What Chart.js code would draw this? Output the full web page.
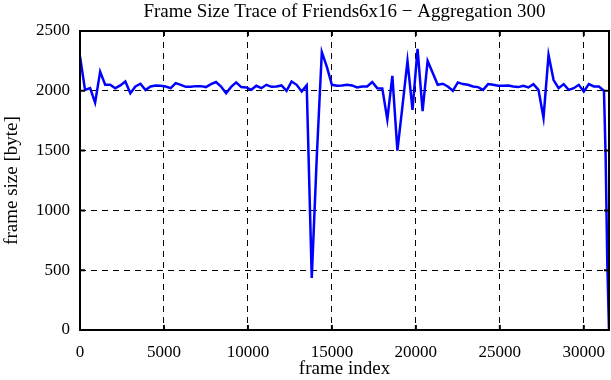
<!DOCTYPE html>
<html>
<head>
<meta charset="utf-8">
<script src="https://cdn.jsdelivr.net/npm/chart.js@4.4.1/dist/chart.umd.min.js"></script>
<style>
  body { margin: 0; background: #fff; }
  canvas { display: block; }
</style>
</head>
<body>
<canvas id="traceChart" width="611" height="380"></canvas>
<script>
// frame index (aggregation window of 300 frames)
const frameIndex = [
    0, 300, 600, 900, 1200, 1500, 1800, 2100, 2400, 2700,
    3000, 3300, 3600, 3900, 4200, 4500, 4800, 5100, 5400, 5700,
    6000, 6300, 6600, 6900, 7200, 7500, 7800, 8100, 8400, 8700,
    9000, 9300, 9600, 9900, 10200, 10500, 10800, 11100, 11400, 11700,
    12000, 12300, 12600, 12900, 13200, 13500, 13800, 14100, 14400, 14700,
    15000, 15300, 15600, 15900, 16200, 16500, 16800, 17100, 17400, 17700,
    18000, 18300, 18600, 18900, 19200, 19500, 19800, 20100, 20400, 20700,
    21000, 21300, 21600, 21900, 22200, 22500, 22800, 23100, 23400, 23700,
    24000, 24300, 24600, 24900, 25200, 25500, 25800, 26100, 26400, 26700,
    27000, 27300, 27600, 27900, 28200, 28500, 28800, 29100, 29400, 29700,
    30000, 30300, 30600, 30900, 31200, 31300, 31400, 31500
];

// frame size [byte]
const frameSize = [
    2287, 2008, 2022, 1900, 2160, 2050, 2050, 2022, 2045, 2078,
    1980, 2036, 2059, 2006, 2036, 2045, 2042, 2036, 2022, 2064,
    2050, 2033, 2033, 2039, 2039, 2031, 2056, 2073, 2036, 1980,
    2033, 2070, 2031, 2028, 2008, 2042, 2022, 2050, 2033, 2036,
    2045, 2000, 2078, 2050, 1995, 2045, 435, 1450, 2324, 2200,
    2050, 2042, 2045, 2050, 2045, 2028, 2036, 2036, 2073, 2022,
    2020, 1760, 2125, 1500, 1870, 2250, 1840, 2350, 1830, 2250,
    2150, 2050, 2059, 2036, 2000, 2070, 2056, 2050, 2036, 2031,
    2008, 2056, 2050, 2042, 2042, 2045, 2036, 2031, 2042, 2028,
    2056, 2008, 1775, 2300, 2090, 2022, 2056, 2008, 2022, 2050,
    1994, 2056, 2036, 2036, 2000, 1450, 550, 0
];

const xTicks = [0, 5000, 10000, 15000, 20000, 25000, 30000];
const yTicks = [0, 500, 1000, 1500, 2000, 2500];

const titleText = 'Frame Size Trace of Friends6x16 \u2212 Aggregation 300';
const serif = '"Liberation Serif", "DejaVu Serif", serif';

// box round the plot, inward tick marks and the title
const framePlugin = {
    id: 'framePlugin',
    afterDraw(chart) {
        const ctx = chart.ctx;
        const a = chart.chartArea;
        const xs = chart.scales.x;
        const ys = chart.scales.y;
        ctx.save();
        ctx.strokeStyle = '#000';
        ctx.lineWidth = 2;
        ctx.strokeRect(a.left, a.top, a.right - a.left, a.bottom - a.top);
        ctx.beginPath();
        xTicks.forEach(v => {
            const px = xs.getPixelForValue(v);
            ctx.moveTo(px, a.top); ctx.lineTo(px, a.top + 5);
            ctx.moveTo(px, a.bottom); ctx.lineTo(px, a.bottom - 5);
        });
        yTicks.forEach(v => {
            const py = ys.getPixelForValue(v);
            ctx.moveTo(a.left, py); ctx.lineTo(a.left + 5, py);
            ctx.moveTo(a.right, py); ctx.lineTo(a.right - 5, py);
        });
        ctx.stroke();
        ctx.fillStyle = '#000';
        ctx.font = '19px ' + serif;
        ctx.textAlign = 'center';
        ctx.textBaseline = 'middle';
        ctx.fillText(titleText, (a.left + a.right) / 2, 12);
        ctx.restore();
    }
};

const ctx = document.getElementById('traceChart').getContext('2d');
const traceChart = new Chart(ctx, {
    type: 'line',
    data: {
        datasets: [{
            label: 'frame size',
            data: frameIndex.map((f, i) => ({ x: f, y: frameSize[i] })),
            borderColor: '#0000ff',
            borderWidth: 2.5,
            pointRadius: 0,
            tension: 0,
            fill: false
        }]
    },
    options: {
        responsive: false,
        animation: false,
        devicePixelRatio: 1,
        layout: { padding: { top: 31, right: 2, left: 0, bottom: 0 } },
        plugins: {
            legend: { display: false },
            tooltip: { enabled: false }
        },
        scales: {
            x: {
                type: 'linear',
                min: 0,
                max: 31500,
                afterFit(scale) {
                    scale.height = 50;
                    scale.paddingLeft = 0;
                    scale.paddingRight = 0;
                },
                afterBuildTicks(scale) { scale.ticks = xTicks.map(v => ({ value: v })); },
                ticks: {
                    color: '#000',
                    font: { family: serif, size: 17 },
                    padding: 12,
                    maxRotation: 0,
                    callback: v => String(v)
                },
                grid: { color: '#000', lineWidth: 1, drawTicks: false },
                border: { display: false, dash: [6, 5] },
                title: {
                    display: true,
                    text: 'frame index',
                    color: '#000',
                    font: { family: serif, size: 19 },
                    padding: { top: 0, bottom: 0 }
                }
            },
            y: {
                min: 0,
                max: 2500,
                afterFit(scale) {
                    scale.width = 80;
                    scale.paddingTop = 0;
                    scale.paddingBottom = 0;
                },
                afterBuildTicks(scale) { scale.ticks = yTicks.map(v => ({ value: v })); },
                ticks: {
                    color: '#000',
                    font: { family: serif, size: 17 },
                    padding: 10,
                    callback: v => String(v)
                },
                grid: { color: '#000', lineWidth: 1, drawTicks: false },
                border: { display: false, dash: [6, 5] },
                title: {
                    display: true,
                    text: 'frame size [byte]',
                    color: '#000',
                    font: { family: serif, size: 19 },
                    padding: { top: 1, bottom: 0 }
                }
            }
        }
    },
    plugins: [framePlugin]
});
</script>
</body>
</html>
